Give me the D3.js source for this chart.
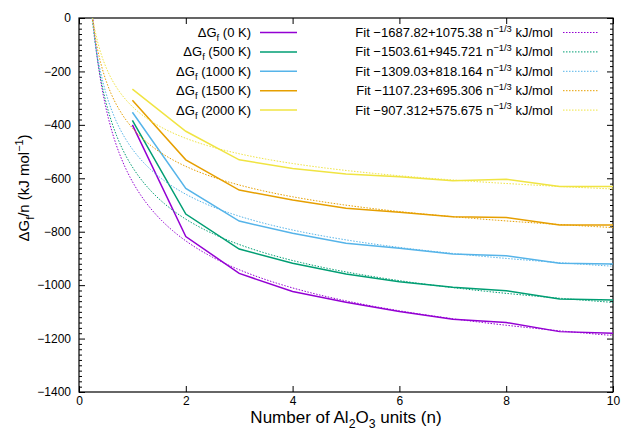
<!DOCTYPE html>
<html>
<head>
<meta charset="utf-8">
<script src="https://cdn.jsdelivr.net/npm/d3@7/dist/d3.min.js"></script>
<style>
  html, body { margin: 0; padding: 0; background: #fff; }
  svg { display: block; font-family: "Liberation Sans", Arial, Helvetica, sans-serif; }
</style>
</head>
<body>
<svg id="chart" width="622" height="430"></svg>
<script>
// Cluster size n (number of Al2O3 units)
const nValues = [1, 2, 3, 4, 5, 6, 7, 8, 9, 10];

// Formation free energy per unit, kJ/mol, at each temperature
const dg0K    = [-400, -818, -956, -1024, -1064, -1099, -1128, -1140, -1174, -1180];
const dg500K  = [-383, -734, -865, -918, -958, -987, -1008, -1021, -1052, -1056];
const dg1000K = [-353, -638, -760, -806, -843, -862, -883, -890, -918, -921];
const dg1500K = [-308, -531, -644, -681, -712, -727, -744, -747, -775, -775];
const dg2000K = [-266, -424, -531, -563, -584, -594, -609, -604, -631, -631];

const temperatures = ["0 K", "500 K", "1000 K", "1500 K", "2000 K"];
const seriesValues = [dg0K, dg500K, dg1000K, dg1500K, dg2000K];

// Fit parameters: a + b * n^(-1/3)
const fitA = [-1687.82, -1503.61, -1309.03, -1107.23, -907.312];
const fitB = [1075.38, 945.721, 818.164, 695.306, 575.675];
const fitALabels = ["−1687.82", "−1503.61", "−1309.03", "−1107.23", "−907.312"];
const fitBLabels = ["1075.38", "945.721", "818.164", "695.306", "575.675"];

const colors = ["#9400d3", "#009e73", "#56b4e9", "#e69f00", "#f0e442"];

const xTicks = [0, 2, 4, 6, 8, 10];
const yTicks = [0, -200, -400, -600, -800, -1000, -1200, -1400];

const svg = d3.select("#chart");
const plot = { left: 79, right: 613, top: 18, bottom: 392 };

const x = d3.scaleLinear().domain([0, 10]).range([plot.left, plot.right]);
const y = d3.scaleLinear().domain([-1400, 0]).range([plot.bottom, plot.top]);

svg.append("defs").append("clipPath").attr("id", "plotClip")
  .append("rect")
  .attr("x", plot.left).attr("y", plot.top)
  .attr("width", plot.right - plot.left).attr("height", plot.bottom - plot.top);

// Axes with inward ticks (mirrored on top and right)
const majorLen = 6, minorLen = 3;
const yMinor = d3.range(-1400, 0.1, 20).filter(v => v % 200 !== 0);

svg.append("g").attr("transform", `translate(0,${plot.bottom})`)
  .call(d3.axisBottom(x).tickValues(xTicks).tickSizeInner(-majorLen).tickSizeOuter(0).tickPadding(4)
        .tickFormat(d3.format("d")))
  .call(g => g.select(".domain").remove())
  .call(g => g.selectAll("text").attr("font-size", 12).attr("fill", "#000"));

svg.append("g").attr("transform", `translate(0,${plot.top})`)
  .call(d3.axisTop(x).tickValues(xTicks).tickSizeInner(-majorLen).tickSizeOuter(0).tickFormat(""))
  .call(g => g.select(".domain").remove());

svg.append("g").attr("transform", `translate(${plot.left},0)`)
  .call(d3.axisLeft(y).tickValues(yTicks).tickSizeInner(-majorLen).tickSizeOuter(0).tickPadding(8)
        .tickFormat(d => d3.format("d")(d).replace("-", "−")))
  .call(g => g.select(".domain").remove())
  .call(g => g.selectAll("text").attr("font-size", 12).attr("fill", "#000"));

svg.append("g").attr("transform", `translate(${plot.left},0)`)
  .call(d3.axisLeft(y).tickValues(yMinor).tickSizeInner(-minorLen).tickSizeOuter(0).tickFormat(""))
  .call(g => g.select(".domain").remove());

svg.append("g").attr("transform", `translate(${plot.right},0)`)
  .call(d3.axisRight(y).tickValues(yTicks).tickSizeInner(-majorLen).tickSizeOuter(0).tickFormat(""))
  .call(g => g.select(".domain").remove());

svg.append("g").attr("transform", `translate(${plot.right},0)`)
  .call(d3.axisRight(y).tickValues(yMinor).tickSizeInner(-minorLen).tickSizeOuter(0).tickFormat(""))
  .call(g => g.select(".domain").remove());

svg.selectAll(".tick line").attr("stroke", "#000").attr("stroke-width", 1);

// Plot frame
svg.append("rect")
  .attr("x", plot.left).attr("y", plot.top)
  .attr("width", plot.right - plot.left).attr("height", plot.bottom - plot.top)
  .attr("fill", "none").attr("stroke", "#000").attr("stroke-width", 1.2);

// Text with sub/superscript parts
function richText(textSel, parts, baseSize) {
  let shift = 0;
  parts.forEach(p => {
    const target = p.sub ? 0.3 * baseSize : p.sup ? -0.4 * baseSize : 0;
    const ts = textSel.append("tspan").text(p.t);
    if (target !== shift) ts.attr("dy", target - shift);
    if (p.sub || p.sup) ts.attr("font-size", baseSize * 0.72);
    shift = target;
  });
}

const data = d3.range(seriesValues.length).map(i =>
  nValues.map((n, j) => ({ n, v: seriesValues[i][j] })));

const lineGen = d3.line().x(d => x(d.n)).y(d => y(d.v));
const plotArea = svg.append("g").attr("clip-path", "url(#plotClip)");

// Computed energies
plotArea.selectAll("path.series").data(data).join("path")
  .attr("class", "series")
  .attr("d", lineGen)
  .attr("fill", "none")
  .attr("stroke", (d, i) => colors[i])
  .attr("stroke-width", 1.5);

// Fitted curves a + b n^(-1/3)
const nSamples = d3.range(0.2, 10.0001, 0.05);
const fits = fitA.map((a, i) => nSamples.map(n => ({ n, v: a + fitB[i] * Math.pow(n, -1 / 3) })));
plotArea.selectAll("path.fit").data(fits).join("path")
  .attr("class", "fit")
  .attr("d", lineGen)
  .attr("fill", "none")
  .attr("stroke", (d, i) => colors[i])
  .attr("stroke-width", 1)
  .attr("stroke-dasharray", "1.5,1.5");

// Legend
const rowY = i => 32.5 + i * 19.4;
const legend = svg.append("g").attr("font-size", 13).attr("fill", "#000");
temperatures.forEach((t, i) => {
  const txt = legend.append("text").attr("x", 251).attr("y", rowY(i) + 4.5).attr("text-anchor", "end");
  richText(txt, [{ t: "ΔG" }, { t: "f", sub: true }, { t: ` (${t})` }], 13);
  legend.append("line").attr("x1", 260).attr("x2", 297).attr("y1", rowY(i)).attr("y2", rowY(i))
    .attr("stroke", colors[i]).attr("stroke-width", 1.5);

  const fitTxt = legend.append("text").attr("x", 553).attr("y", rowY(i) + 4.5).attr("text-anchor", "end");
  richText(fitTxt, [{ t: `Fit ${fitALabels[i]}+${fitBLabels[i]} n` }, { t: "−1/3", sup: true }, { t: " kJ/mol" }], 13);
  legend.append("line").attr("x1", 563).attr("x2", 599).attr("y1", rowY(i)).attr("y2", rowY(i))
    .attr("stroke", colors[i]).attr("stroke-width", 1).attr("stroke-dasharray", "1.5,1.5");
});

// Axis titles
const xTitle = svg.append("text").attr("x", (plot.left + plot.right) / 2).attr("y", 423)
  .attr("text-anchor", "middle").attr("font-size", 17).attr("fill", "#000");
richText(xTitle, [{ t: "Number of Al" }, { t: "2", sub: true }, { t: "O" }, { t: "3", sub: true }, { t: " units (n)" }], 17);

const yTitle = svg.append("text")
  .attr("transform", `translate(29,188) rotate(-90)`)
  .attr("text-anchor", "middle").attr("font-size", 15).attr("fill", "#000");
richText(yTitle, [{ t: "ΔG" }, { t: "f", sub: true }, { t: "/n (kJ mol" }, { t: "−1", sup: true }, { t: ")" }], 15);
</script>
</body>
</html>
